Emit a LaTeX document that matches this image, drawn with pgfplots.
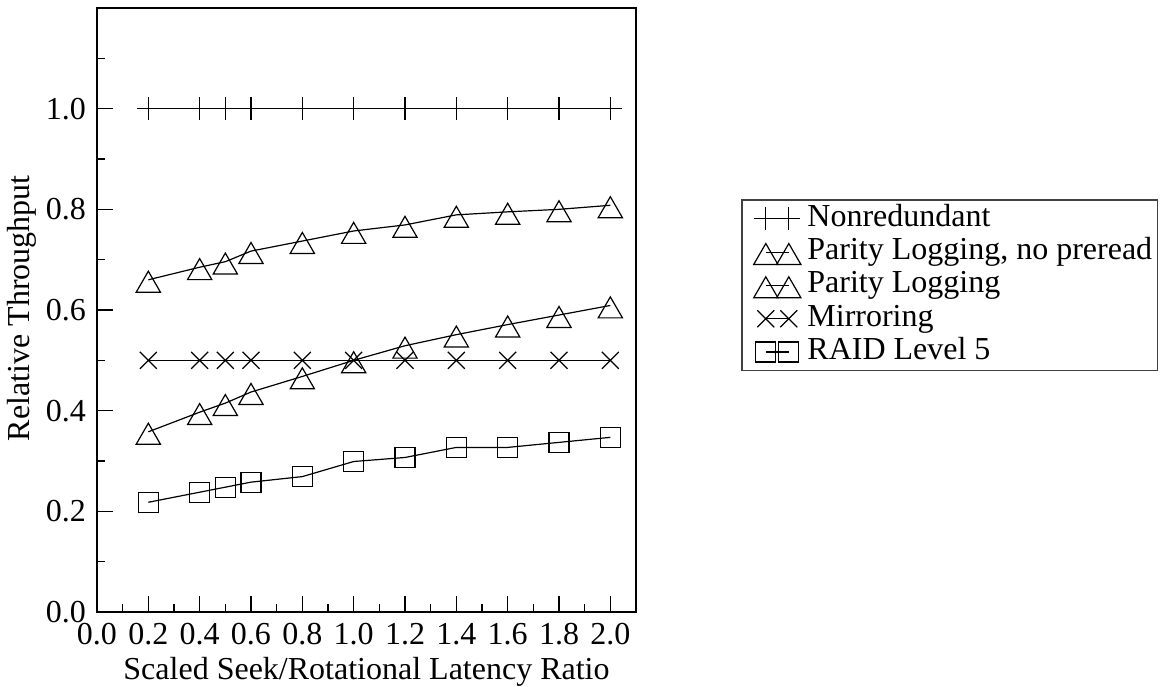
\documentclass[border=0pt]{standalone}
\usepackage{pgfplots}
\pgfplotsset{compat=1.18}
\usepackage{fontspec}
\setmainfont{Liberation Serif}
\begin{document}
\fontsize{16}{19}\selectfont
\begin{tikzpicture}
\path[use as bounding box] (-48.5pt,-37pt) rectangle (532pt,306pt);
\begin{axis}[
  scale only axis, width=269.5pt, height=302pt,
  xmin=0, xmax=2.1, ymin=0, ymax=1.2,
  axis line style={line width=0.8pt},
  xtick={0,0.2,0.4,0.6,0.8,1.0,1.2,1.4,1.6,1.8,2.0},
  minor xtick={0.1,0.3,0.5,0.7,0.9,1.1,1.3,1.5,1.7,1.9},
  ytick={0,0.2,0.4,0.6,0.8,1.0},
  minor ytick={0.1,0.3,0.5,0.7,0.9,1.1},
  tick align=inside, xtick pos=bottom, ytick pos=left,
  major tick length=8pt, minor tick length=4pt,
  tick style={line width=0.7pt, black},
  /pgf/number format/.cd, fixed, fixed zerofill, precision=1, assume math mode=true, /pgfplots/.cd,
  ticklabel style={font=\fontsize{16}{19}\selectfont},
  xlabel={Scaled Seek/Rotational Latency Ratio},
  ylabel={Relative Throughput},
  xlabel style={font=\fontsize{16}{19}\selectfont, yshift=4.5pt},
  ylabel style={font=\fontsize{16}{19}\selectfont, at={(axis description cs:-0.139,0.503)}, anchor=center},
  legend cell align=left,
  legend style={at={(1.195,0.683)}, anchor=north west, draw=black!75, line width=0.7pt,
    font=\fontsize{16}{19}\selectfont, inner xsep=2pt, inner ysep=1pt, row sep=0pt,
    nodes={inner sep=0.5pt, text height=11.6pt, text depth=4.05pt}},
  legend image code/.code={\path (-9.7pt,0pt) (20pt,0pt);\draw[#1] plot coordinates {(0pt,0pt) (11.5pt,0pt)};},
  every axis plot/.append style={black, line width=0.6pt},
]
\addplot[mark=+, mark size=5.75pt] coordinates {
(0.2,1.0) (0.4,1.0) (0.5,1.0) (0.6,1.0) (0.8,1.0) (1.0,1.0) (1.2,1.0) (1.4,1.0) (1.6,1.0) (1.8,1.0) (2.0,1.0)};
\addlegendentry{Nonredundant}
\addplot[mark=triangle, mark size=7pt, mark options={yshift=-2.7pt}] coordinates {
(0.2,0.66) (0.4,0.685) (0.5,0.696) (0.6,0.717) (0.8,0.737) (1.0,0.757) (1.2,0.769) (1.4,0.789) (1.6,0.795) (1.8,0.800) (2.0,0.808)};
\addlegendentry{Parity Logging, no preread}
\addplot[mark=triangle, mark size=7pt, mark options={yshift=-2.7pt}] coordinates {
(0.2,0.358) (0.4,0.397) (0.5,0.415) (0.6,0.437) (0.8,0.468) (1.0,0.50) (1.2,0.529) (1.4,0.551) (1.6,0.571) (1.8,0.590) (2.0,0.609)};
\addlegendentry{Parity Logging}
\addplot[mark=x, mark size=6pt] coordinates {
(0.2,0.5) (0.4,0.5) (0.5,0.5) (0.6,0.5) (0.8,0.5) (1.0,0.5) (1.2,0.5) (1.4,0.5) (1.6,0.5) (1.8,0.5) (2.0,0.5)};
\addlegendentry{Mirroring}
\addplot[mark=square, mark size=5pt] coordinates {
(0.2,0.218) (0.4,0.238) (0.5,0.248) (0.6,0.258) (0.8,0.269) (1.0,0.299) (1.2,0.307) (1.4,0.327) (1.6,0.327) (1.8,0.337) (2.0,0.347)};
\addlegendentry{RAID Level 5}
\end{axis}
\end{tikzpicture}
\end{document}
